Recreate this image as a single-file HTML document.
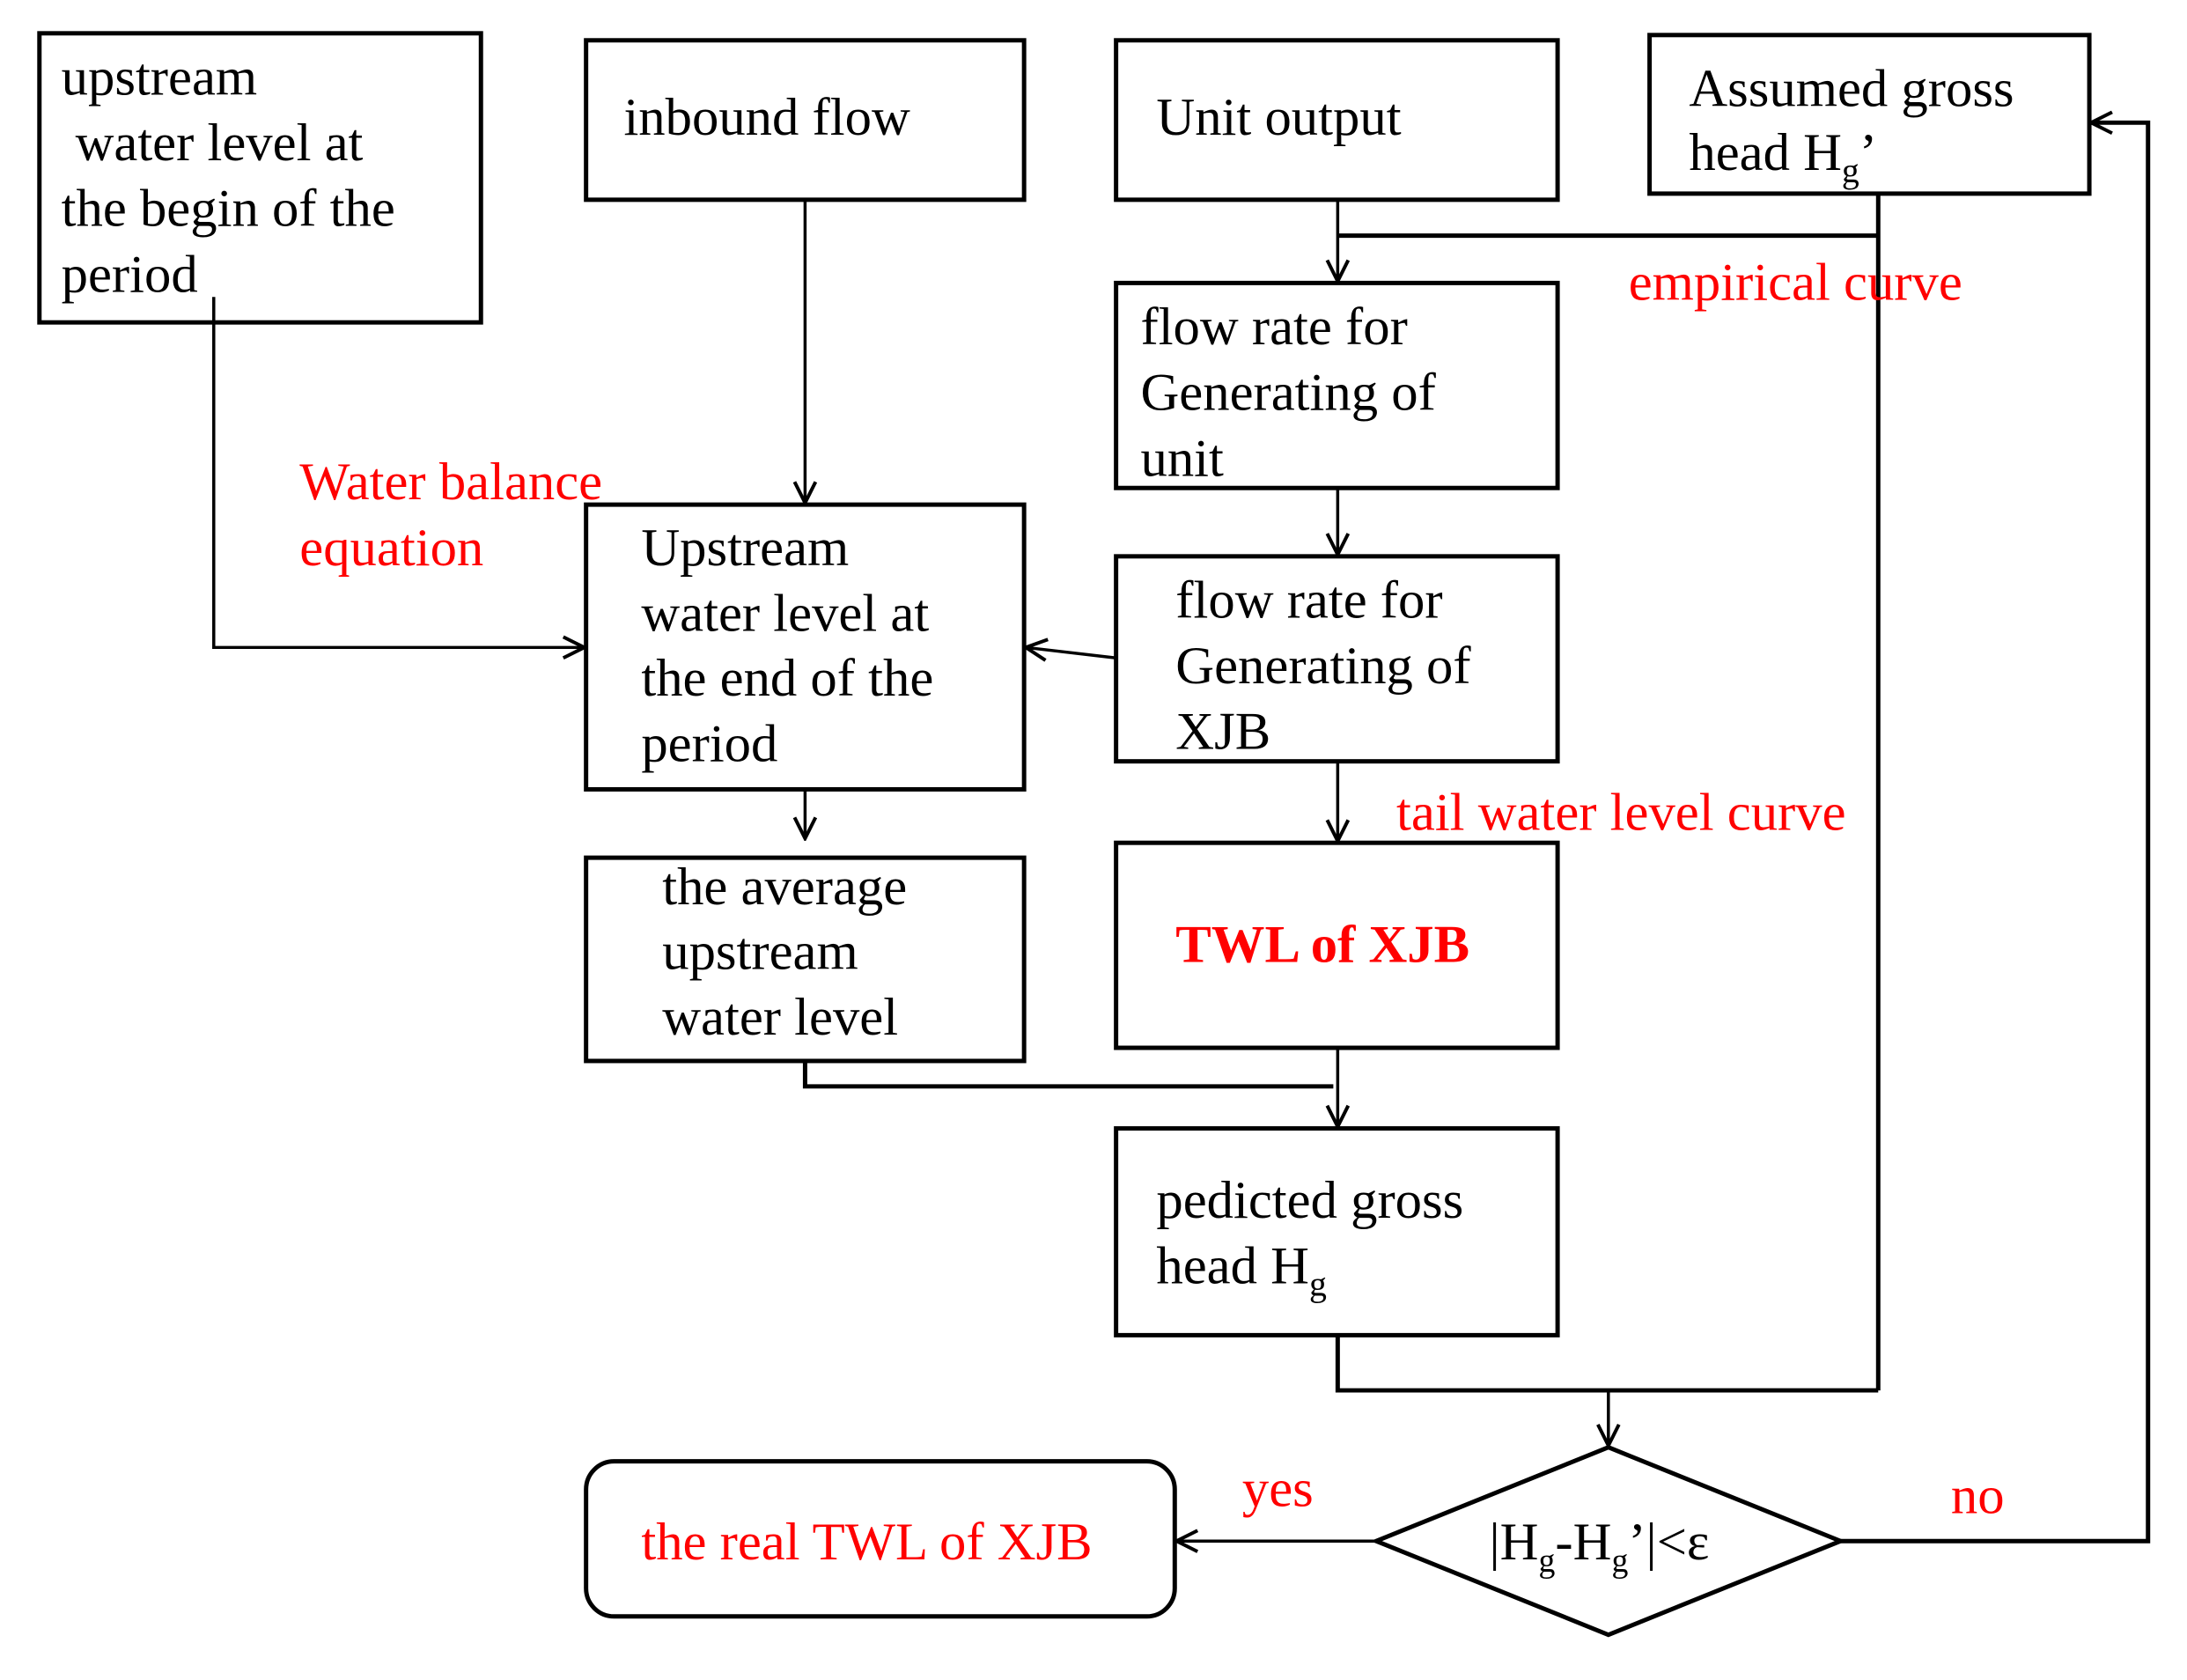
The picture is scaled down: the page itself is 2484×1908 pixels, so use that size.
<!DOCTYPE html>
<html><head><meta charset="utf-8"><style>html,body{margin:0;padding:0;background:#fff}svg{display:block}text{font-family:"Liberation Serif",serif;font-size:61px}</style></head>
<body>
<svg width="2484" height="1908" viewBox="0 0 2484 1908" xmlns="http://www.w3.org/2000/svg">
<defs><marker id="a" markerWidth="30" markerHeight="30" refX="27" refY="15" orient="auto" markerUnits="userSpaceOnUse"><path d="M3,3 L27,15 L3,27" fill="none" stroke="#000" stroke-width="4"/></marker></defs>
<g transform="scale(0.995)">
<g fill="none" stroke="#000" stroke-width="5">
<rect x="45" y="38" width="504" height="330"/>
<rect x="669" y="46" width="500" height="182"/>
<rect x="1274" y="46" width="504" height="182"/>
<rect x="1883" y="40" width="502" height="181"/>
<rect x="1274" y="323" width="504" height="234"/>
<rect x="669" y="576" width="500" height="325"/>
<rect x="1274" y="635" width="504" height="234"/>
<rect x="669" y="979" width="500" height="232"/>
<rect x="1274" y="962" width="504" height="234"/>
<rect x="1274" y="1288" width="504" height="236"/>
<rect x="669" y="1668" width="672" height="177" rx="32"/>
<polygon points="1571,1759 1836,1652 2101,1759 1836,1866"/>
</g>
<g fill="none" stroke="#000" stroke-width="3.5">
<polyline points="244,339 244,739 667,739" marker-end="url(#a)"/>
<line x1="919" y1="228" x2="919" y2="574" marker-end="url(#a)"/>
<line x1="1527" y1="228" x2="1527" y2="321" marker-end="url(#a)"/>
<polyline points="1527,269 2144,269" stroke-width="5"/>
<line x1="2144" y1="221" x2="2144" y2="1587" stroke-width="5"/>
<line x1="1527" y1="557" x2="1527" y2="633" marker-end="url(#a)"/>
<line x1="1274" y1="751" x2="1171" y2="739" marker-end="url(#a)"/>
<line x1="919" y1="901" x2="919" y2="957" marker-end="url(#a)"/>
<line x1="1527" y1="869" x2="1527" y2="960" marker-end="url(#a)"/>
<polyline points="919,1211 919,1240 1522,1240" stroke-width="5"/>
<line x1="1527" y1="1196" x2="1527" y2="1286" marker-end="url(#a)"/>
<polyline points="1527,1524 1527,1587 2144,1587" stroke-width="5"/>
<line x1="1836" y1="1587" x2="1836" y2="1650" marker-end="url(#a)"/>
<line x1="1571" y1="1759" x2="1343" y2="1759" marker-end="url(#a)"/>
<polyline points="2101,1759 2452,1759 2452,140 2387,140" stroke-width="5" marker-end="url(#a)"/>
</g>
<g fill="#000">
<text x="70" y="108">upstream</text>
<text x="86" y="183">water level at</text>
<text x="70" y="258">the begin of the</text>
<text x="70" y="333">period</text>
<text x="712" y="154">inbound flow</text>
<text x="1320" y="154">Unit output</text>
<text x="1928" y="121">Assumed gross</text>
<text x="1928" y="194">head H<tspan font-size="40" dy="14">g</tspan><tspan dy="-14">’</tspan></text>
<text x="1302" y="393">flow rate for</text>
<text x="1302" y="468">Generating of</text>
<text x="1302" y="543">unit</text>
<text x="732" y="645">Upstream</text>
<text x="732" y="720">water level at</text>
<text x="732" y="794">the end of the</text>
<text x="732" y="869">period</text>
<text x="1342" y="705">flow rate for</text>
<text x="1342" y="780">Generating of</text>
<text x="1342" y="855">XJB</text>
<text x="756" y="1032">the average</text>
<text x="756" y="1106">upstream</text>
<text x="756" y="1181">water level</text>
<text x="1320" y="1390">pedicted gross</text>
<text x="1320" y="1465">head H<tspan font-size="40" dy="14">g</tspan></text>
<text x="1700" y="1780" font-size="58">|H<tspan font-size="38" dy="14">g</tspan><tspan dy="-14">-H</tspan><tspan font-size="38" dy="14">g</tspan><tspan dy="-14">’|&lt;ε</tspan></text>
</g>
<g fill="#f00">
<text x="1342" y="1098" font-weight="bold">TWL of XJB</text>
<text x="1859" y="342">empirical curve</text>
<text x="342" y="570">Water balance</text>
<text x="342" y="645">equation</text>
<text x="1594" y="947">tail water level curve</text>
<text x="1418" y="1719">yes</text>
<text x="2227" y="1727">no</text>
<text x="732" y="1780">the real TWL of XJB</text>
</g>
</g>
</svg>
</body></html>
